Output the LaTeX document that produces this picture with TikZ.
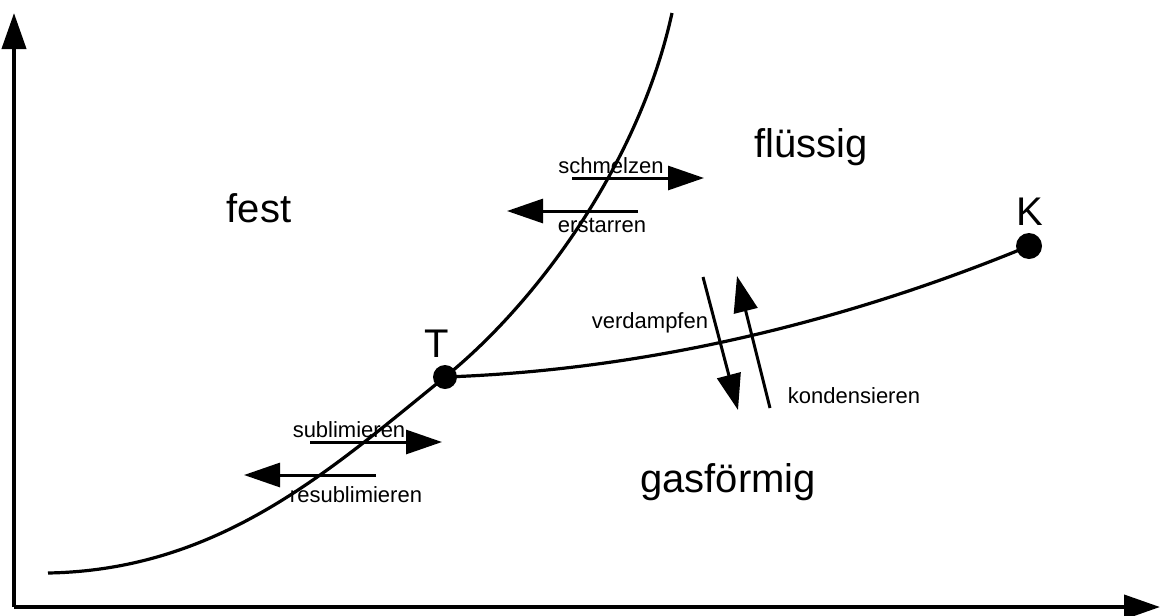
\documentclass[tikz,border=0pt]{standalone}
\usepackage{fontspec}
\setmainfont{Liberation Sans}
\usetikzlibrary{arrows.meta}
\tikzset{
  arr/.style={line width=2.25pt,-{Triangle[length=27pt,width=18pt]}},
  axis/.style={line width=3pt,-{Triangle[length=27pt,width=18pt]}},
  phase/.style={line width=2.4pt},
  big/.style={font=\fontsize{30}{36}\selectfont,anchor=base,inner sep=0pt},
  small/.style={font=\fontsize{16.5}{20}\selectfont,anchor=base,inner sep=0pt},
  dot/.style={circle,fill=black,inner sep=0pt},
}
\begin{document}
\begin{tikzpicture}[x=0.75pt,y=-0.75pt]
\useasboundingbox (0,0) rectangle (1161,615);
% axes
\coordinate (O) at (14,607);
\coordinate (Ytip) at (14,13);
\coordinate (Xtip) at (1160,607);
\draw[axis] (O) -- (Ytip);
\draw[axis] (O) -- (Xtip);
% points
\node[dot,minimum size=18pt] (T) at (445,377) {};
\node[dot,minimum size=19.5pt] (K) at (1029,246) {};
\node[big] (Tl) at (437,357) {T};
\node[big] (Kl) at (1030,225) {K};
% curves
\coordinate (c0) at (48,573);
\coordinate (c1) at (672,13);
\draw[phase] (c0) .. controls (220,570) and (330,470) .. (T.center)
  .. controls (540,300) and (640,160) .. (c1);
\draw[phase] (T.center) .. controls (650,370) and (850,320) .. (K.center);
% region labels
\node[big] (fest) at (259,222) {fest};
\node[big] (fl) at (811,157) {flüssig};
\node[big] (gas) at (728,492) {gasförmig};
% transitions
\coordinate (s0) at (572,178); \coordinate (s1) at (704,178);
\draw[arr] (s0) -- (s1);
\node[small] (schm) at (611,173) {schmelzen};
\coordinate (e0) at (638,211); \coordinate (e1) at (507,211);
\draw[arr] (e0) -- (e1);
\node[small] (erst) at (602,232) {erstarren};
\coordinate (u0) at (310,442); \coordinate (u1) at (442,442);
\draw[arr] (u0) -- (u1);
\node[small] (subl) at (349,437) {sublimieren};
\coordinate (r0) at (376,475); \coordinate (r1) at (244,475);
\draw[arr] (r0) -- (r1);
\node[small] (resu) at (356,502) {resublimieren};
\coordinate (v0) at (703,277); \coordinate (v1) at (738,410);
\draw[arr] (v0) -- (v1);
\node[small] (verd) at (650,328) {verdampfen};
\coordinate (k0) at (770,408); \coordinate (k1) at (737,276);
\draw[arr] (k0) -- (k1);
\node[small] (kond) at (854,403) {kondensieren};
\end{tikzpicture}
\end{document}
